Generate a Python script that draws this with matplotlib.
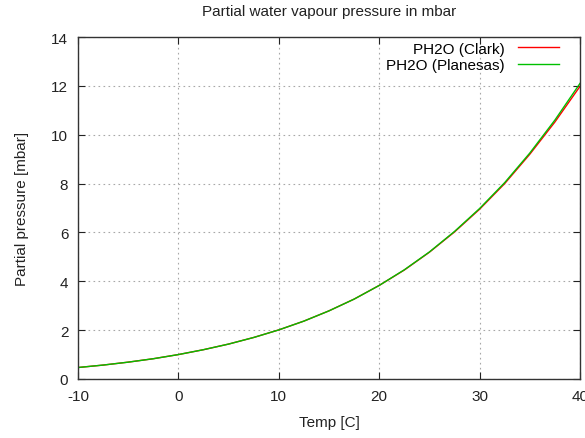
import numpy as np
import matplotlib
matplotlib.use("Agg")
import matplotlib.pyplot as plt

plt.rcParams['font.family'] = ['Liberation Sans', 'DejaVu Sans']
plt.rcParams['axes.unicode_minus'] = False

# temperature [C] and partial pressure [mbar]
temp = [-10, -7.5, -5, -2.5, 0, 2.5, 5, 7.5, 10, 12.5, 15, 17.5, 20,
        22.5, 25, 27.5, 30, 32.5, 35, 37.5, 40]
ph2o_clark = [0.47, 0.57, 0.69, 0.83, 1.00, 1.20, 1.43, 1.70, 2.01, 2.37,
              2.79, 3.27, 3.83, 4.46, 5.19, 6.02, 6.95, 8.00, 9.20, 10.52, 11.98]
ph2o_planesas = [0.47, 0.57, 0.69, 0.83, 1.00, 1.20, 1.43, 1.70, 2.01, 2.37,
                 2.79, 3.27, 3.83, 4.47, 5.20, 6.04, 6.98, 8.04, 9.25, 10.60, 12.10]

fig = plt.figure(figsize=(5.85, 4.39), dpi=100)
ax = fig.add_axes([78/585, 1 - 380/439, 502/585, 342/439])

ax.plot(temp, ph2o_clark, color='#ff0000', lw=1, label='PH2O (Clark)')
ax.plot(temp, ph2o_planesas, color='#00c000', lw=1, label='PH2O (Planesas)')

ax.set_xlim(-10, 40)
ax.set_ylim(0, 14)
ax.set_xticks(np.arange(-10, 41, 10))
ax.set_yticks(np.arange(0, 15, 2))
ax.tick_params(direction='in', top=True, right=True, length=5, labelsize=11,
               colors='#222222', pad=7)
ax.grid(True, color='#a8a8a8', linestyle=(0, (1.5, 3)), lw=0.8)
for s in ax.spines.values():
    s.set_color('#333333')
    s.set_linewidth(1)

ax.set_title('Partial water vapour pressure in mbar', fontsize=11,
             color='#222222', pad=16)
ax.set_xlabel('Temp [C]', fontsize=11, color='#222222', labelpad=9)
ax.set_ylabel('Partial pressure [mbar]', fontsize=11, color='#222222', labelpad=16)

ax.legend(loc='upper right', frameon=False, markerfirst=False, fontsize=11,
          handlelength=2.7, borderaxespad=0.0, borderpad=0.3,
          labelspacing=0.15, handletextpad=0.9,
          bbox_to_anchor=(1 - 16/502, 1.0))

fig.savefig('out.png', dpi=100)
